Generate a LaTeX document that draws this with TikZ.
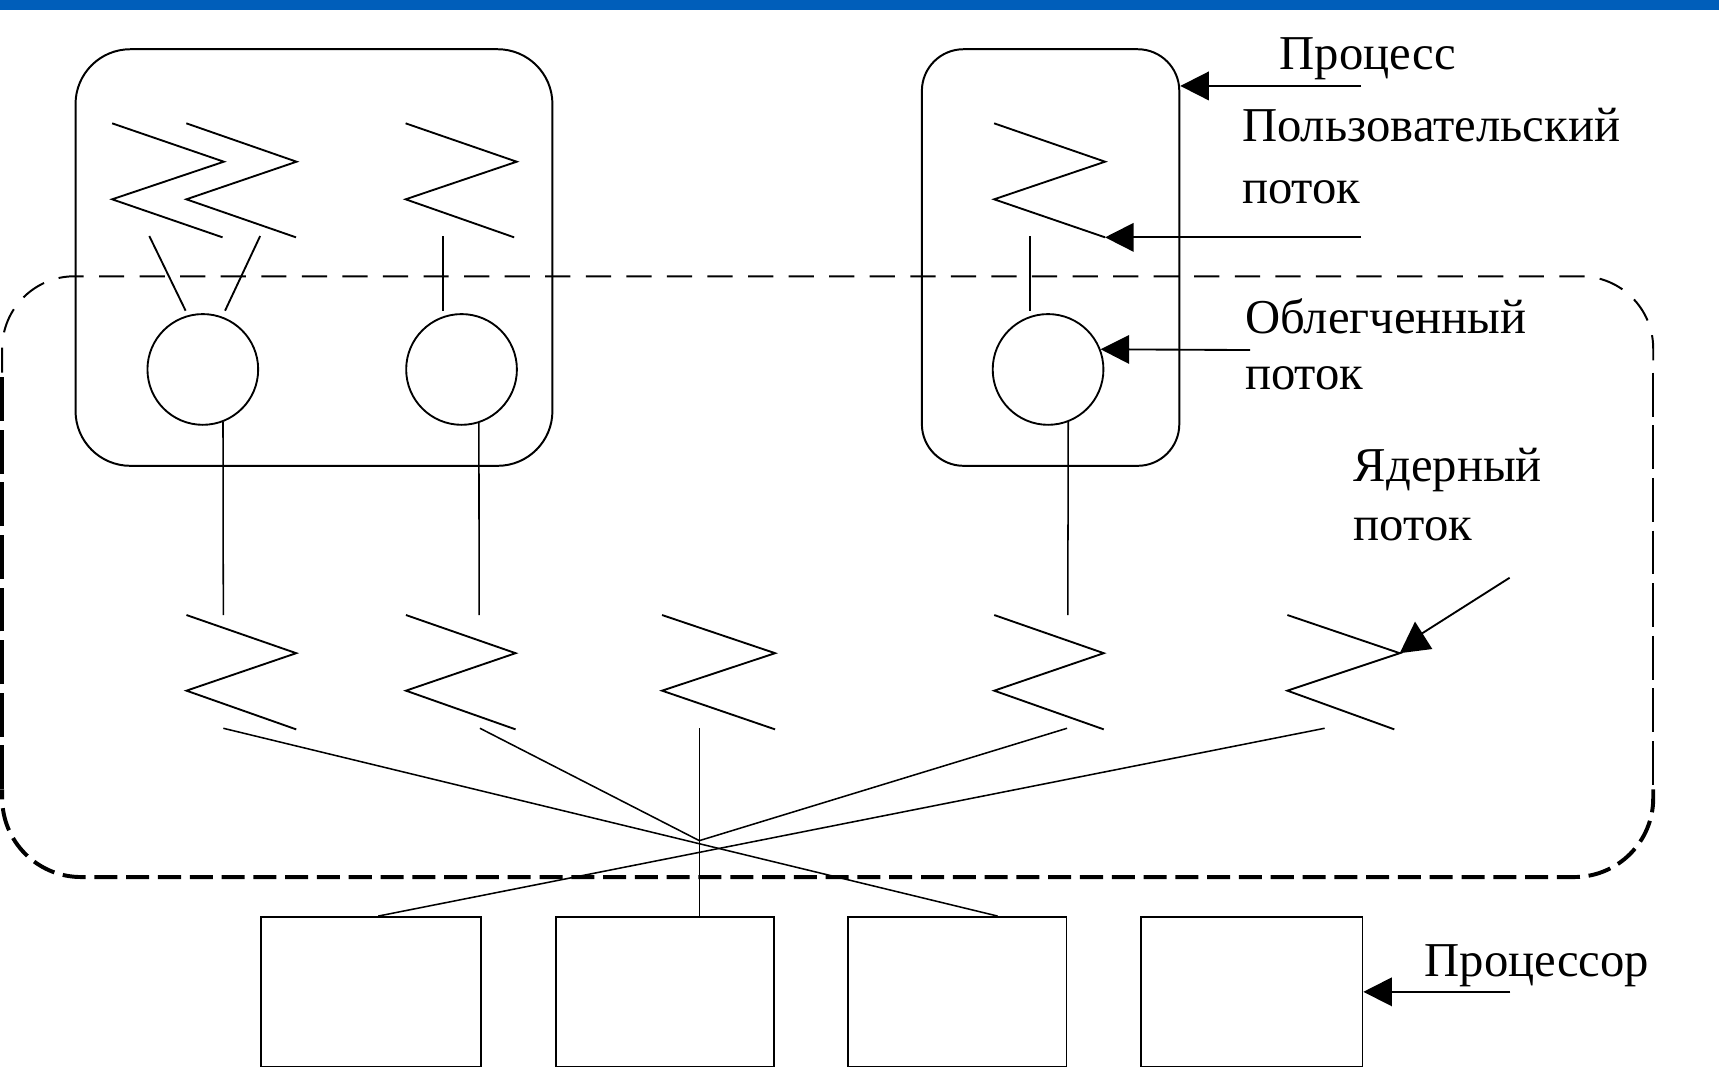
\documentclass[tikz,border=0pt]{standalone}
\usepackage{fontspec}
\setmainfont{Liberation Serif}
\usetikzlibrary{arrows.meta}
\definecolor{barblue}{RGB}{0,94,186}
\begin{document}
\begin{tikzpicture}[x=0.5pt,y=-0.5pt,
  thr/.style={line width=0.85pt, line join=miter},
  conn/.style={line width=0.7pt},
  pbox/.style={draw, line width=0.9pt, inner sep=0pt, anchor=north west, minimum height=190pt},
  lwp/.style={draw, circle, line width=0.85pt, inner sep=0pt, minimum size=50.5pt},
  cpu/.style={draw, line width=0.85pt, inner sep=0pt, anchor=north west, minimum height=68.2pt},
  lbl/.style={anchor=base west, inner sep=0pt, font=\fontsize{22.2pt}{26pt}\selectfont},
  arr/.style={line width=0.85pt, -{Triangle[length=13pt,width=13pt]}},
  kthin/.style={line width=0.9pt},
  kthick/.style={line width=1.8pt}]
\useasboundingbox (0,0) rectangle (1568,974);
\fill[barblue] (0,0) rectangle (1568,9);

% process boxes
\node[pbox, rounded corners=25pt, minimum width=217.5pt] (proc1) at (68,44) {};
\node[pbox, rounded corners=19pt, minimum width=117.4pt] (proc2) at (840,44) {};

% kernel region (dashed)
\draw[kthin, dash pattern=on 11.5pt off 7pt, rounded corners=33pt] (2,340) -- (2,252) -- (1508,252) -- (1508,340);
\draw[kthin, dash pattern=on 20pt off 4pt] (1508,340) -- (1508,720);
\draw[kthick, dash pattern=on 10.5pt off 4pt, rounded corners=36pt] (1508,720) -- (1508,800) -- (2,800) -- (2,720);
\draw[kthick, dash pattern=on 20pt off 4pt] (2,720) -- (2,340);

% user threads
\draw[thr] (102.3,112.5) -- (204.2,147.5) -- (102.3,181.8) -- (203,216.5);
\draw[thr] (170,112.5) -- (270.5,147.5) -- (170,181.8) -- (270,216.5);
\draw[thr] (370,112.5) -- (471.3,147.5) -- (370,181.8) -- (469,216.5);
\draw[thr] (906.8,112.5) -- (1008,147.5) -- (906.8,181.8) -- (1008,216.5) coordinate (u4end);

% lightweight processes
\node[lwp] (c1) at (185,337) {};
\node[lwp] (c2) at (421,337) {};
\node[lwp] (c3) at (956,337) {};

\coordinate (l1a) at (136.2,215.3); \coordinate (l1b) at (169.3,283.4);
\coordinate (l2a) at (237.3,215.3); \coordinate (l2b) at (205.3,283.4);
\coordinate (l3a) at (403.9,215.3); \coordinate (l3b) at (403.9,283.4);
\coordinate (l4a) at (939.7,215.3); \coordinate (l4b) at (939.7,283.4);
\draw[thr] (l1a) -- (l1b);
\draw[thr] (l2a) -- (l2b);
\draw[thr] (l3a) -- (l3b);
\draw[thr] (l4a) -- (l4b);

% kernel threads
\draw[thr] (170.1,561) -- (270.2,595.8) -- (170.1,630) -- (270.2,665.3);
\draw[thr] (370.3,561) -- (470.3,595.8) -- (370.3,630) -- (470.3,665.3);
\draw[thr] (603.9,561) -- (707,595.8) -- (603.9,630) -- (707,665.3);
\draw[thr] (906.9,561) -- (1006.8,595.8) -- (906.9,630) -- (1006.8,665.3);
\draw[thr] (1174.3,561) -- (1276.8,595.8) coordinate (k5v) -- (1174.3,630) -- (1271.8,665.3);

\coordinate (k1t) at (203.7,561);
\coordinate (k2t) at (437,561);
\coordinate (k4t) at (974,561);
\draw[conn] (c1.-69) -- (k1t);
\draw[conn] (c2.-72) -- (k2t);
\draw[conn] (c3.-69) -- (k4t);

% processors
\node[cpu, minimum width=100.5pt] (p1) at (237,835.6) {};
\node[cpu, minimum width=99.5pt] (p2) at (506.4,835.6) {};
\node[cpu, minimum width=99.5pt] (p3) at (773,835.6) {};
\node[cpu, minimum width=100.8pt] (p4) at (1040.3,835.6) {};

\coordinate (k1b) at (203.7,664.3);
\coordinate (k2b) at (437.8,664.3);
\coordinate (k3b) at (637.9,664.3);
\coordinate (k4b) at (973.3,664.3);
\coordinate (k5b) at (1208.3,664.3);
\coordinate (x) at (637.9,766.8);
\coordinate (p1t) at (345,835.6);
\coordinate (p2t) at (637.9,835.6);
\coordinate (p3t) at (910,835.6);
\draw[conn] (k1b) -- (p3t);
\draw[conn] (k2b) -- (x);
\draw[conn] (k3b) -- (p2t);
\draw[conn] (k4b) -- (x);
\draw[conn] (k5b) -- (p1t);

% labels
\node[lbl] (tproc) at (1167,63.2) {Процесс};
\node[lbl] (tuser) at (1132.6,129.2) {Пользовательский};
\node[lbl] (tuser2) at (1132.6,185.5) {поток};
\node[lbl] (tlwp) at (1135.4,304) {Облегченный};
\node[lbl] (tlwp2) at (1135.4,355.7) {поток};
\node[lbl] (tk) at (1234.5,439.4) {Ядерный};
\node[lbl] (tk2) at (1234.5,492.6) {поток};
\node[lbl] (tcpu) at (1299,891) {Процессор};

% label arrows
\coordinate (a1) at (1241.6,78.4);
\coordinate (a2) at (1241.6,216.5);
\coordinate (a3) at (1140.4,319.3);
\coordinate (a4) at (1377,527);
\coordinate (a5) at (1377.7,904.7);
\draw[arr] (a1) -- (a1 -| proc2.east);
\draw[arr] (a2) -- (u4end);
\draw[arr] (a3) -- (c3.21);
\draw[arr] (a5) -- (a5 -| p4.east);
\draw[line width=0.85pt] (a4) -- (1292,581);
\fill (k5v) -- (1290.7,567) -- (1306.5,592) -- cycle;
\end{tikzpicture}
\end{document}
